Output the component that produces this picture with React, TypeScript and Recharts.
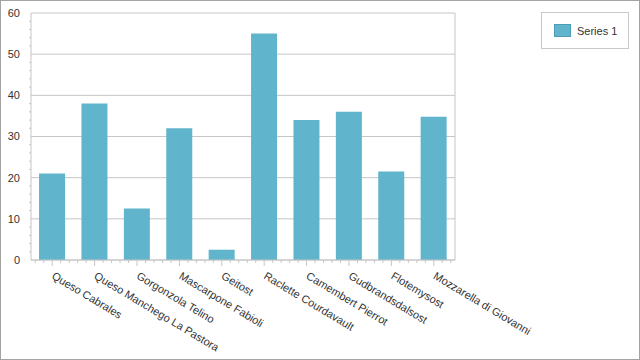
import React from 'react';
import { BarChart, Bar, XAxis, YAxis, CartesianGrid } from 'recharts';

const CHEESES = [
  'Queso Cabrales',
  'Queso Manchego La Pastora',
  'Gorgonzola Telino',
  'Mascarpone Fabioli',
  'Geitost',
  'Raclette Courdavault',
  'Camembert Pierrot',
  'Gudbrandsdalsost',
  'Flotemysost',
  'Mozzarella di Giovanni',
];
const SERIES_1 = [21, 38, 12.5, 32, 2.5, 55, 34, 36, 21.5, 34.8];
const Y_MINOR_TICKS = [0, 2, 4, 6, 8, 10, 12, 14, 16, 18, 20, 22, 24, 26, 28, 30, 32, 34, 36, 38, 40, 42, 44, 46, 48, 50, 52, 54, 56, 58, 60];
const Y_MAJOR_TICKS = [0, 10, 20, 30, 40, 50, 60];
const Y_MAX = 60;

const data = CHEESES.map((name, i) => ({ name, value: SERIES_1[i] }));

const WIDTH = 640;
const HEIGHT = 360;
const MARGIN = { top: 13, right: 185, bottom: 0, left: 0 };
const Y_AXIS_W = 31;
const PLOT_W = WIDTH - MARGIN.left - MARGIN.right - Y_AXIS_W;

const BAR_COLOR = '#60b4cb';
const GRID = '#c6c6c6';
const TEXT = '#333333';
const FONT = "Tahoma, 'Liberation Sans', sans-serif";

function XTick(props: any) {
  const { x, y, payload } = props;
  const step = PLOT_W / CHEESES.length / 5;
  const top = y - 8;
  return (
    <g>
      {[-2, -1, 0, 1, 2].map((k) => (
        <line
          key={k}
          x1={x + k * step}
          x2={x + k * step}
          y1={top}
          y2={top + (k === 0 ? 6 : 3)}
          stroke={GRID}
        />
      ))}
      <g transform={`translate(${x + 3},${top + 11})`}>
        <text
          transform="rotate(31)"
          textAnchor="start"
          dy="0.75em"
          fill={TEXT}
          fontSize={11}
          fontFamily={FONT}
        >
          {payload.value}
        </text>
      </g>
    </g>
  );
}

function YTick(props: any) {
  const { x, y, payload } = props;
  const major = payload.value % 10 === 0;
  return (
    <g>
      {!major && <line x1={x} x2={x + 2} y1={y} y2={y} stroke={GRID} />}
      {major && (
        <text x={x - 9} y={y} dy="0.35em" textAnchor="end" fill={TEXT} fontSize={11} fontFamily={FONT}>
          {payload.value}
        </text>
      )}
    </g>
  );
}

function LegendBox() {
  return (
    <div
      style={{
        position: 'absolute',
        left: 540,
        top: 11,
        width: 88,
        height: 37,
        boxSizing: 'border-box',
        border: '1px solid #c8c8c8',
        display: 'flex',
        alignItems: 'center',
        paddingLeft: 12,
        fontFamily: FONT,
        fontSize: 11,
        color: TEXT,
      }}
    >
      <span
        style={{
          display: 'inline-block',
          width: 17,
          height: 13,
          boxSizing: 'border-box',
          background: BAR_COLOR,
          border: '1px solid #4c9cb5',
          marginRight: 6,
        }}
      />
      Series 1
    </div>
  );
}

export default function App() {
  return (
    <div
      style={{
        position: 'absolute',
        left: 0,
        top: 0,
        width: WIDTH,
        height: HEIGHT,
        boxSizing: 'border-box',
        border: '1px solid #a3a3a3',
        background: '#fff',
      }}
    >
      <div style={{ position: 'absolute', left: -1, top: -1 }}>
        <BarChart width={WIDTH} height={HEIGHT} data={data} margin={MARGIN} barCategoryGap="19%">
          <CartesianGrid
            stroke={GRID}
            horizontalCoordinatesGenerator={({ offset }: any) =>
              Y_MAJOR_TICKS.map((v) => offset.top + offset.height * (1 - v / Y_MAX))
            }
            verticalCoordinatesGenerator={({ offset }: any) => [offset.left + offset.width]}
          />
          <XAxis
            dataKey="name"
            interval={0}
            height={100}
            tickLine={false}
            axisLine={{ stroke: GRID }}
            tick={<XTick />}
          />
          <YAxis
            width={Y_AXIS_W}
            domain={[0, Y_MAX]}
            ticks={Y_MINOR_TICKS}
            interval={0}
            tickLine={false}
            tickSize={0}
            axisLine={{ stroke: GRID }}
            tick={<YTick />}
          />
          <Bar dataKey="value" name="Series 1" fill={BAR_COLOR} isAnimationActive={false} />
        </BarChart>
      </div>
      <LegendBox />
    </div>
  );
}
